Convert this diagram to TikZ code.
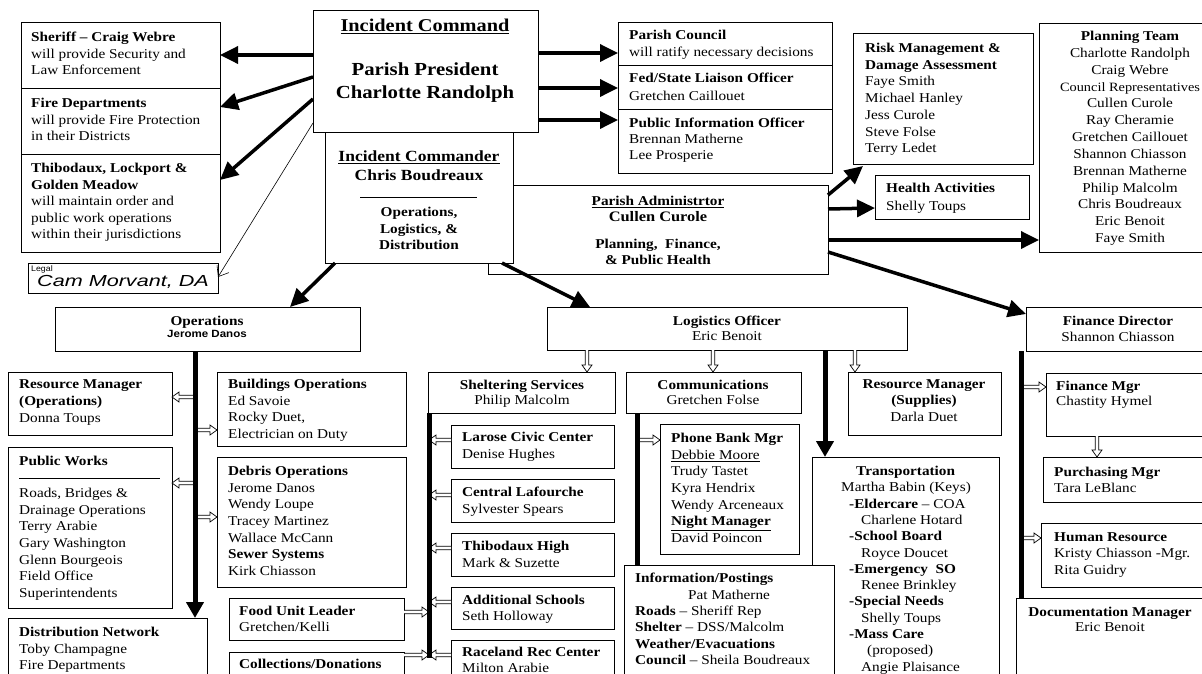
\documentclass[tikz,border=0pt]{standalone}
\usepackage{fontspec}
\setmainfont{Liberation Serif}[FakeStretch=1.13]
\setsansfont{Liberation Sans}[FakeStretch=1.1]
\newfontfamily\handfont{Liberation Sans}[FakeStretch=1.35]
\usetikzlibrary{arrows.meta,calc}
\newcommand\bodyfont{\fontsize{13.5}{16.6}\selectfont}
\newcommand\fsz[2]{\fontsize{#1}{#2}\selectfont}
% hollow (outlined) arrow from #1 to #2
\newcommand\hollowarrow[2]{%
 \coordinate (ha-s) at (#1);
 \coordinate (ha-e) at (#2);
 \coordinate (ha-c) at ($(ha-e)!7pt!(ha-s)$);
 \draw[openarr] ($(ha-s)!1.7pt!90:(ha-e)$) -- ($(ha-c)!1.7pt!90:(ha-e)$) -- ($(ha-c)!5pt!90:(ha-e)$) -- (ha-e) -- ($(ha-c)!5pt!-90:(ha-e)$) -- ($(ha-c)!1.7pt!-90:(ha-e)$) -- ($(ha-s)!1.7pt!-90:(ha-e)$);}
\begin{document}
\begin{tikzpicture}[x=1pt,y=-1pt,
 bx/.style={draw, line width=0.8pt, fill=white, inner sep=0pt, outer sep=0pt, anchor=north west},
 tl/.style={inner sep=0pt, anchor=north west, align=left, font=\bodyfont},
 tcn/.style={inner sep=0pt, anchor=north, align=center, font=\bodyfont},
 bigarr/.style={line width=3.5pt, -{Triangle[length=18pt,width=17pt]}},
 downarr/.style={line width=5pt, -{Triangle[length=16pt,width=17pt]}},
 openarr/.style={line width=0.7pt, fill=white, line join=miter},
 thinarr/.style={line width=0.6pt, -{Straight Barb[length=9pt,width=14pt]}},
 stem/.style={line width=5pt},
 rule/.style={line width=0.8pt}]
\useasboundingbox (0,0) rectangle (1202,673);
\fill[white] (0,0) rectangle (1202,673);
\clip (0,0) rectangle (1202,673);

% ---------- boxes ----------
\node[bx, minimum width=199, minimum height=66] (sheriff) at (21,22) {};
\node[bx, minimum width=199, minimum height=66] (fire) at (21,88) {};
\node[bx, minimum width=199, minimum height=98] (thib) at (21,154) {};
\node[bx, line width=0.6pt, minimum width=190, minimum height=30] (legal) at (28,263) {};
\node[bx, minimum width=340, minimum height=89] (pa) at (488,185) {};
\node[bx, minimum width=225, minimum height=122] (ic) at (313,10) {};
\node[bx, minimum width=188, minimum height=131] (icr) at (325,132) {};
\node[bx, minimum width=214, minimum height=43] (council) at (618,22) {};
\node[bx, minimum width=214, minimum height=44] (fed) at (618,65) {};
\node[bx, minimum width=214, minimum height=64] (pio) at (618,109) {};
\node[bx, minimum width=180, minimum height=131] (risk) at (853,33) {};
\node[bx, minimum width=154, minimum height=44] (health) at (875,175) {};
\node[bx, minimum width=176, minimum height=229] (plan) at (1039,23) {};
\node[bx, minimum width=305, minimum height=44] (ops) at (55,307) {};
\node[bx, minimum width=164, minimum height=63] (rmo) at (8,372) {};
\node[bx, minimum width=164, minimum height=161] (pw) at (8,447) {};
\node[bx, minimum width=199, minimum height=72] (dist) at (8,618) {};
\node[bx, minimum width=189, minimum height=74] (bld) at (217,372) {};
\node[bx, minimum width=189, minimum height=130] (debris) at (217,457) {};
\node[bx, minimum width=175, minimum height=42] (food) at (229,598) {};
\node[bx, minimum width=175, minimum height=38] (coll) at (229,652) {};
\node[bx, minimum width=360, minimum height=43] (log) at (547,307) {};
\node[bx, minimum width=187, minimum height=41] (shel) at (428,372) {};
\node[bx, minimum width=175, minimum height=41] (comm) at (626,372) {};
\node[bx, minimum width=153, minimum height=63] (rms) at (848,372) {};
\node[bx, minimum width=163, minimum height=43] (larose) at (451,425) {};
\node[bx, minimum width=163, minimum height=43] (central) at (451,479) {};
\node[bx, minimum width=163, minimum height=43] (thibh) at (451,533) {};
\node[bx, minimum width=163, minimum height=42] (addl) at (451,587) {};
\node[bx, minimum width=163, minimum height=50] (race) at (451,640) {};
\node[bx, minimum width=139, minimum height=130] (phone) at (660,424) {};
\node[bx, minimum width=187, minimum height=233] (trans) at (812,457) {};
\node[bx, minimum width=210, minimum height=125] (info) at (624,565) {};
\node[bx, minimum width=189, minimum height=44] (fin) at (1026,307) {};
\node[bx, minimum width=169, minimum height=63] (finmgr) at (1046,373) {};
\node[bx, minimum width=172, minimum height=45] (purch) at (1043,457) {};
\node[bx, minimum width=174, minimum height=64] (hr) at (1041,523) {};
\node[bx, minimum width=199, minimum height=92] (doc) at (1016,598) {};

% ---------- texts ----------
\node[tl] (sheriff-t) at (31,32) {\textbf{Sheriff – Craig Webre}\\will provide Security and\\Law Enforcement};
\node[tl] (fire-t) at (31,98) {\textbf{Fire Departments}\\will provide Fire Protection\\in their Districts};
\node[tl] (thib-t) at (31,163) {\textbf{Thibodaux, Lockport \&}\\\textbf{Golden Meadow}\\will maintain order and\\public work operations\\within their jurisdictions};
\node[tl, font=\sffamily\fsz{8}{9}] (legal-a) at (31,265) {Legal};
\node[tl, font=\handfont\itshape\fsz{16}{17}] (legal-b) at (37,275) {Cam Morvant, DA};

\node[tcn, font=\bfseries\fsz{18}{22}] (ic-a) at (425,19) {\underline{Incident Command}};
\node[tcn, font=\bfseries\fsz{18.4}{23}] (ic-b) at (425,63) {Parish President\\Charlotte Randolph};
\node[tcn, font=\bfseries\fsz{15.5}{19}] (icr-a) at (419,151) {\underline{Incident Commander}\\Chris Boudreaux};
\draw[rule] (360,197) -- (477,197);
\node[tcn, font=\bfseries\fsz{13.5}{16.5}] (icr-b) at (419,207) {Operations,\\Logistics, \&\\Distribution};
\node[tcn, font=\bfseries\fsz{13.5}{15.5}] (pa-a) at (658,196) {\underline{Parish Administrtor}\\{\fsz{14.5}{15.5}Cullen Curole}};
\node[tcn, font=\bfseries\fsz{13.5}{15.5}] (pa-b) at (658,239) {Planning,\ \ Finance,\\\& Public Health};

\node[tl, font=\fsz{13.5}{17}] (council-t) at (629,30) {\textbf{Parish Council}\\will ratify necessary decisions};
\node[tl, font=\fsz{13.5}{18}] (fed-t) at (629,73) {\textbf{Fed/State Liaison Officer}\\Gretchen Caillouet};
\node[tl, font=\fsz{13.5}{16}] (pio-t) at (629,118) {\textbf{Public Information Officer}\\Brennan Matherne\\Lee Prosperie};
\node[tl, font=\fsz{13.5}{16.7}] (risk-t) at (865,43) {\textbf{Risk Management \&}\\\textbf{Damage Assessment}\\Faye Smith\\Michael Hanley\\Jess Curole\\Steve Folse\\Terry Ledet};
\node[tl, font=\fsz{13.5}{18}] (health-t) at (886,183) {\textbf{Health Activities}\\Shelly Toups};
\node[tcn, font=\fsz{13.5}{16.83}] (plan-t) at (1130,31) {\textbf{Planning Team}\\Charlotte Randolph\\Craig Webre\\{\fsz{12.7}{16.83}Council Representatives}\\Cullen Curole\\Ray Cheramie\\Gretchen Caillouet\\Shannon Chiasson\\Brennan Matherne\\Philip Malcolm\\Chris Boudreaux\\Eric Benoit\\Faye Smith};

\node[tcn, font=\bfseries\fsz{13.5}{15}] (ops-a) at (207,316) {Operations};
\node[tcn, font=\sffamily\bfseries\fsz{10.5}{12}] (ops-b) at (207,330) {Jerome Danos};
\node[tl, font=\fsz{13.5}{17}] (rmo-t) at (19,379) {\textbf{Resource Manager}\\\textbf{(Operations)}\\Donna Toups};
\node[tl] (pw-a) at (19,456) {\textbf{Public Works}};
\draw[rule] (19,478) -- (160,478);
\node[tl, font=\fsz{13.5}{16.67}] (pw-b) at (19,488) {Roads, Bridges \&\\Drainage Operations\\Terry Arabie\\Gary Washington\\Glenn Bourgeois\\Field Office\\Superintendents};
\node[tl] (dist-t) at (19,627) {\textbf{Distribution Network}\\Toby Champagne\\Fire Departments};
\node[tl, font=\fsz{13.5}{16.5}] (bld-t) at (228,379) {\textbf{Buildings Operations}\\Ed Savoie\\Rocky Duet,\\Electrician on Duty};
\node[tl, font=\fsz{13.5}{16.67}] (debris-t) at (228,466) {\textbf{Debris Operations}\\Jerome Danos\\Wendy Loupe\\Tracey Martinez\\Wallace McCann\\\textbf{Sewer Systems}\\Kirk Chiasson};
\node[tl, font=\fsz{13.5}{16}] (food-t) at (239,606) {\textbf{Food Unit Leader}\\Gretchen/Kelli};
\node[tl] (coll-t) at (239,659) {\textbf{Collections/Donations}};

\node[tcn, font=\fsz{13.5}{15}] (log-t) at (727,316) {\textbf{Logistics Officer}\\Eric Benoit};
\node[tcn, font=\fsz{13.5}{15}] (shel-t) at (522,380) {\textbf{Sheltering Services}\\Philip Malcolm};
\node[tcn, font=\fsz{13.5}{15}] (comm-t) at (713,380) {\textbf{Communications}\\Gretchen Folse};
\node[tcn, font=\fsz{13.5}{16.5}] (rms-t) at (924,379) {\textbf{Resource Manager}\\\textbf{(Supplies)}\\Darla Duet};
\node[tl, font=\fsz{13.5}{17}] (larose-t) at (462,432) {\textbf{Larose Civic Center}\\Denise Hughes};
\node[tl, font=\fsz{13.5}{17}] (central-t) at (462,487) {\textbf{Central Lafourche}\\Sylvester Spears};
\node[tl, font=\fsz{13.5}{17}] (thibh-t) at (462,541) {\textbf{Thibodaux High}\\Mark \& Suzette};
\node[tl, font=\fsz{13.5}{16}] (addl-t) at (462,595) {\textbf{Additional Schools}\\Seth Holloway};
\node[tl, font=\fsz{13.5}{15.5}] (race-t) at (462,647) {\textbf{Raceland Rec Center}\\Milton Arabie};
\node[tl, font=\fsz{13.5}{16.67}] (phone-t) at (671,433) {\textbf{Phone Bank Mgr}\\\underline{Debbie Moore}\\Trudy Tastet\\Kyra Hendrix\\Wendy Arceneaux\\\underline{\textbf{Night Manager}}\\David Poincon};
\node[tl, font=\fsz{13.5}{16.4}] (info-t) at (635,573) {\textbf{Information/Postings}\\\hspace*{53pt}Pat Matherne\\\textbf{Roads} – Sheriff Rep\\\textbf{Shelter} – DSS/Malcolm\\\textbf{Weather/Evacuations}\\\textbf{Council} – Sheila Boudreaux};
\node[tl, font=\fsz{13.5}{16.3}] (trans-t) at (841,466) {\hspace*{15pt}\textbf{Transportation}\\Martha Babin (Keys)\\\hspace*{8pt}\textbf{-Eldercare} – COA\\\hspace*{20pt}Charlene Hotard\\\hspace*{8pt}\textbf{-School Board}\\\hspace*{20pt}Royce Doucet\\\hspace*{8pt}\textbf{-Emergency\ \ SO}\\\hspace*{20pt}Renee Brinkley\\\hspace*{8pt}\textbf{-Special Needs}\\\hspace*{20pt}Shelly Toups\\\hspace*{8pt}\textbf{-Mass Care}\\\hspace*{26pt}(proposed)\\\hspace*{20pt}Angie Plaisance};
\node[tcn, font=\fsz{13.5}{16}] (fin-t) at (1118,316) {\textbf{Finance Director}\\Shannon Chiasson};
\node[tl, font=\fsz{13.5}{15}] (finmgr-t) at (1056,381) {\textbf{Finance Mgr}\\Chastity Hymel};
\node[tl, font=\fsz{13.5}{16}] (purch-t) at (1054,467) {\textbf{Purchasing Mgr}\\Tara LeBlanc};
\node[tl, font=\fsz{13.5}{16.5}] (hr-t) at (1054,532) {\textbf{Human Resource}\\Kristy Chiasson -Mgr.\\Rita Guidry};
\node[tcn, font=\fsz{13.5}{15}] (doc-t) at (1110,607) {\textbf{Documentation Manager}\\Eric Benoit};

% ---------- connectors ----------
\draw[bigarr] (ic.west |- 0,55) -- (sheriff.east |- 0,55);
\draw[bigarr] (ic.west |- 0,77) -- (fire.east |- 0,107);
\draw[bigarr] (ic.west |- 0,99) -- (thib.east |- 0,180);
\draw[thinarr] (ic.west |- 0,123) -- (legal.east |- 0,277);
\draw[bigarr] (ic.east |- 0,53) -- (council.west |- 0,53);
\draw[bigarr] (ic.east |- 0,88) -- (fed.west |- 0,88);
\draw[bigarr] (ic.east |- 0,120) -- (pio.west |- 0,120);
\draw[bigarr] (pa.east |- 0,195) -- ($(risk.south west)+(10,2)$);
\draw[bigarr] (pa.east |- 0,209) -- (health.west |- 0,208);
\draw[bigarr] (pa.east |- 0,240) -- (plan.west |- 0,240);
\draw[bigarr] (pa.east |- 0,252) -- (fin.west |- 0,314);
\draw[bigarr] ($(icr.south west)+(10,0)$) -- ($(ops.north east)+(-70,0)$);
\draw[bigarr] ($(icr.south east)+(-11,0)$) -- ($(log.north west)+(43,0)$);

\coordinate (opsx) at (195,351);
\coordinate (logx) at (825,350);
\coordinate (shelx) at (429,658);
\coordinate (commx) at (637,413);
\coordinate (finx) at (1021,351);

% hollow arrows
\hollowarrow{opsx |- 0,397}{rmo.east |- 0,397}
\hollowarrow{opsx |- 0,430}{bld.west |- 0,430}
\hollowarrow{opsx |- 0,483}{pw.east |- 0,483}
\hollowarrow{opsx |- 0,517}{debris.west |- 0,517}
\hollowarrow{log.south -| 587,0}{shel.north -| 587,0}
\hollowarrow{log.south -| 713,0}{comm.north -| 713,0}
\hollowarrow{log.south -| 855,0}{rms.north -| 855,0}
\hollowarrow{larose.west |- 0,440}{shelx |- 0,440}
\hollowarrow{central.west |- 0,495}{shelx |- 0,495}
\hollowarrow{thibh.west |- 0,548}{shelx |- 0,548}
\hollowarrow{addl.west |- 0,602}{shelx |- 0,602}
\hollowarrow{race.west |- 0,655}{shelx |- 0,655}
\hollowarrow{food.east |- 0,612}{shelx |- 0,612}
\hollowarrow{coll.east |- 0,655}{shelx |- 0,655}
\hollowarrow{commx |- 0,440}{phone.west |- 0,440}
\hollowarrow{finx |- 0,387}{finmgr.west |- 0,387}
\hollowarrow{finmgr.south -| 1097,0}{purch.north -| 1097,0}
\hollowarrow{finx |- 0,538}{hr.west |- 0,538}

% stems and thick down arrows
\draw[downarr] (ops.south -| opsx) -- (dist.north -| opsx);
\draw[downarr] (log.south -| logx) -- (trans.north -| logx);
\draw[stem] (shel.south -| shelx) -- (shelx);
\draw[stem] (comm.south -| commx) -- (info.north -| commx);
\draw[stem] (fin.south -| finx) -- (doc.north -| finx);
\end{tikzpicture}
\end{document}
